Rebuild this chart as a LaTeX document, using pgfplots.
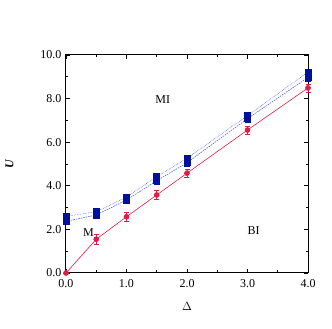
\documentclass[border=0pt]{standalone}
\usepackage{fontspec}
\setmainfont{Liberation Serif}
\usepackage{pgfplots}
\pgfplotsset{compat=1.18}
\definecolor{redpt}{HTML}{DC1E46}
\definecolor{navyb}{HTML}{00109A}
\definecolor{blueln}{HTML}{5060E0}

\begin{document}
\begin{tikzpicture}
\useasboundingbox (-66pt,-56pt) rectangle (266pt,273pt);
\begin{axis}[
  at={(0pt,0pt)}, anchor=south west,
  scale only axis,
  width=242pt, height=218pt,
  xmin=0, xmax=4, ymin=0, ymax=10,
  xtick={0,1,2,3,4}, ytick={0,2,4,6,8,10},
  minor x tick num=1, minor y tick num=1,
  tick align=inside,
  major tick length=4pt, minor tick length=2.5pt,
  axis line style={line width=1pt},
  every tick/.style={black, line width=0.6pt},
  tick label style={font=\fontsize{12}{14}\selectfont},
  /pgf/number format/assume math mode=true,
  xticklabel style={yshift=-3pt, /pgf/number format/.cd, fixed, fixed zerofill, precision=1},
  yticklabel style={xshift=-1pt, /pgf/number format/.cd, fixed, fixed zerofill, precision=1},
  xlabel={$\Delta$},
  ylabel={\textbf{\textit{U}}},
  label style={font=\fontsize{12}{14}\selectfont},
  xlabel style={yshift=-8pt},
  ylabel style={yshift=20pt},
  clip=false,
]

% upper blue branch
\addplot[blueln, densely dotted, line width=0.6pt, mark=square*, mark size=3pt,
  mark options={solid, navyb},
  error bars/.cd, y dir=both, y explicit,
  error bar style={navyb, line width=0.6pt}]
  coordinates {
    (0,2.60) +- (0,0.15)
    (0.5,2.81) +- (0,0.15)
    (1.0,3.48) +- (0,0.15)
    (1.5,4.42) +- (0,0.15)
    (2.0,5.26) +- (0,0.15)
    (3.0,7.22) +- (0,0.15)
    (4.0,9.22) +- (0,0.15)
  };

% lower blue branch
\addplot[blueln, dash pattern=on 1.5pt off 1pt, line width=0.6pt, mark=square*, mark size=3pt,
  mark options={solid, navyb},
  error bars/.cd, y dir=both, y explicit,
  error bar style={navyb, line width=0.6pt}]
  coordinates {
    (0,2.37) +- (0,0.15)
    (0.5,2.66) +- (0,0.15)
    (1.0,3.35) +- (0,0.15)
    (1.5,4.23) +- (0,0.15)
    (2.0,5.06) +- (0,0.15)
    (3.0,7.08) +- (0,0.15)
    (4.0,8.97) +- (0,0.15)
  };

% red branch
\addplot[redpt, line width=0.6pt, mark=*, mark size=2.5pt,
  error bars/.cd, y dir=both, y explicit,
  error bar style={redpt, line width=0.6pt}]
  coordinates {
    (0,0.0) +- (0,0.0)
    (0.5,1.55) +- (0,0.22)
    (1.0,2.58) +- (0,0.2)
    (1.5,3.58) +- (0,0.2)
    (2.0,4.58) +- (0,0.2)
    (3.0,6.56) +- (0,0.18)
    (4.0,8.49) +- (0,0.18)
  };

\node[font=\fontsize{12}{14}\selectfont] at (axis cs:1.6,7.95) {MI};
\node[font=\fontsize{12}{14}\selectfont] at (axis cs:0.37,1.85) {M};
\node[font=\fontsize{12}{14}\selectfont] at (axis cs:3.1,1.95) {BI};
\end{axis}
\end{tikzpicture}
\end{document}
